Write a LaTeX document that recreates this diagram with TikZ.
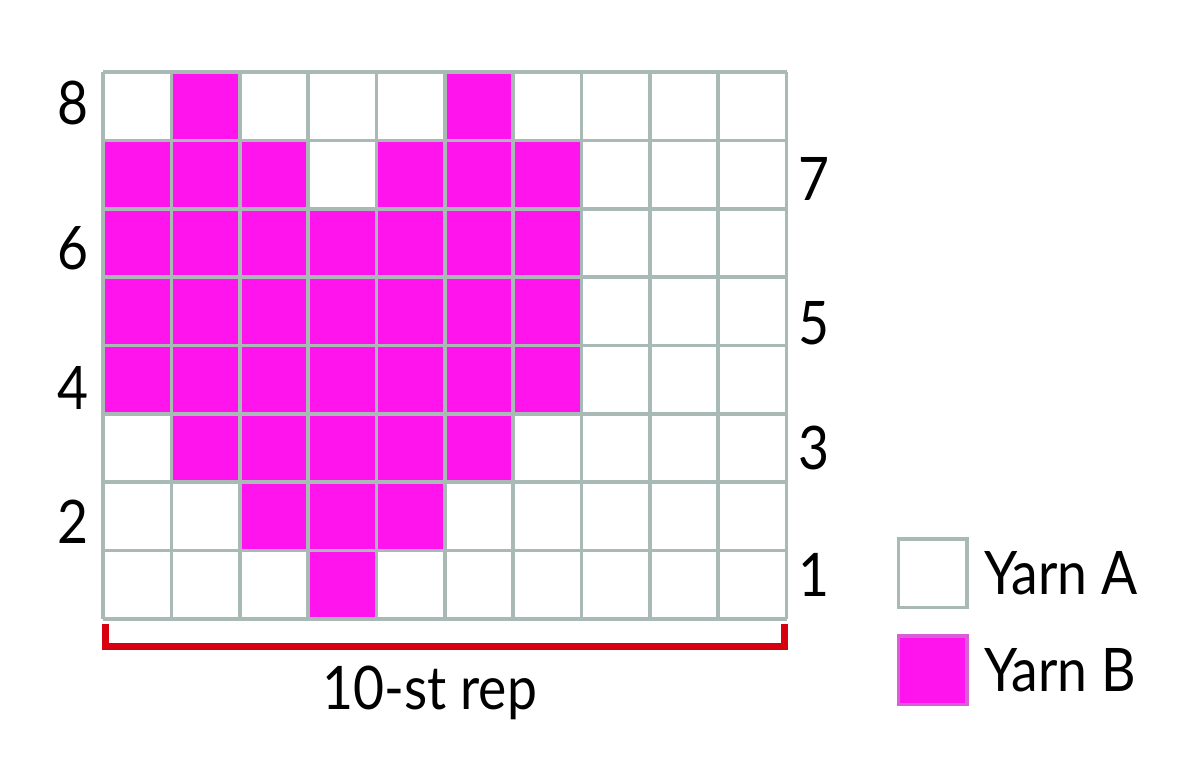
\documentclass[tikz,border=0pt]{standalone}
\usepackage{fontspec}
\setmainfont[FakeStretch=0.89]{Lato}
\usetikzlibrary{positioning,calc}
\definecolor{yarnb}{HTML}{FF14EE}
\definecolor{gridgray}{HTML}{A9BAB6}
\definecolor{repred}{HTML}{D7000F}
\tikzset{
  gridline/.style={draw=gridgray,line width=1.5pt},
  rowno/.style={font=\fontsize{25}{30}\selectfont,inner sep=0pt},
  key/.style={draw=gridgray,line width=1.5pt,minimum size=1cm,inner sep=0pt},
  bracket/.style={draw=repred,line width=2.9pt},
}

\begin{document}
\begin{tikzpicture}
\useasboundingbox (-1.507,-2.121) rectangle (15.845,9.056);
% contrast stitches, row by row
\foreach \r/\cols in {1/{4},2/{3,4,5},3/{2,3,4,5,6},4/{1,...,7},5/{1,...,7},6/{1,...,7},7/{1,2,3,5,6,7},8/{2,6}}
  \foreach \c in \cols
    \fill[yarnb] (\c-1,\r-1) rectangle (\c,\r);
\draw[gridline] (0,0) grid (10,8);
% row numbers
\node[rowno] (R8) at (-0.44,7.55) {8};
\node[rowno] (R6) at (-0.44,5.43) {6};
\node[rowno] (R4) at (-0.44,3.38) {4};
\node[rowno] (R2) at (-0.44,1.42) {2};
\node[rowno] (R7) at (10.4,6.44) {7};
\node[rowno] (R5) at (10.4,4.33) {5};
\node[rowno] (R3) at (10.4,2.50) {3};
\node[rowno] (R1) at (10.4,0.64) {1};
% repeat bracket
\coordinate (repL) at (0.03,-0.07);
\coordinate (repR) at (9.97,-0.07);
\draw[bracket] (repL) |- ($(repR)+(0,-0.33)$) -- (repR);
\node[rowno,anchor=base] (rep) at (4.78,-1.33) {10-st rep};
% key
\node[key] (keyA) at (12.14,0.67) {};
\node[key,fill=yarnb,draw=gridgray!45!yarnb] (keyB) at (12.14,-0.75) {};
\node[rowno] (yarnA) [right=0.22cm of keyA] {Yarn A};
\node[rowno] (yarnB) [right=0.22cm of keyB] {Yarn B};
\end{tikzpicture}
\end{document}
